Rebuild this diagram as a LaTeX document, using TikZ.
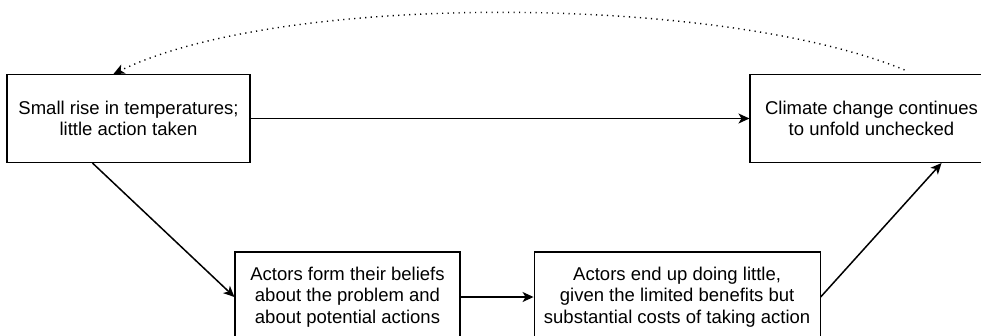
\documentclass[tikz,border=0pt]{standalone}
\usepackage{fontspec}
\setmainfont{Liberation Sans}
\usetikzlibrary{positioning, arrows.meta}
\tikzset{
    box/.style={draw, line width=1.1pt, align=center, inner sep=0pt, minimum height=88pt,
        font=\fontsize{18.5}{21.7}\selectfont}, % the text boxes
    loopback/.style={line width=1.4pt, dash pattern=on 1.2pt off 4.3pt,
        -{Stealth[length=11pt, width=10pt, inset=3pt]}}, % the dotted feedback arrow
}
\tikzstyle{arrow} = [line width=1.5pt, -{Stealth[length=11pt, width=10pt, inset=3pt]}]

\begin{document}
\begin{tikzpicture}[x=1pt, y=-1pt]
    \clip (0,0) rectangle (981,335);
    \node[box, minimum width=243pt] (rise) at (128.5,118.5) {Small rise in temperatures;\\little action taken};
    \node[box, minimum width=243pt] (climate) at (871.5,118.5) {Climate change continues\\to unfold unchecked};
    \node[box, minimum width=225pt, minimum height=90pt] (beliefs) at (347.5,297) {Actors form their beliefs\\about the problem and\\about potential actions};
    \node[box, minimum width=286pt, minimum height=90pt] (little) [right=73pt of beliefs] {Actors end up doing little,\\given the limited benefits but\\substantial costs of taking action};

    \draw[arrow] (rise) -- (climate);
    \draw[arrow] ([xshift=-36pt]rise.south) -- (beliefs.west);
    \draw[arrow] (beliefs) -- (little);
    \draw[arrow] (little.east) -- ([xshift=70pt]climate.south);
    \draw[loopback] ([xshift=33pt, yshift=4pt]climate.north)
        .. controls (720,-6) and (280,-8) .. ([xshift=-15pt]rise.north);
\end{tikzpicture}
\end{document}
